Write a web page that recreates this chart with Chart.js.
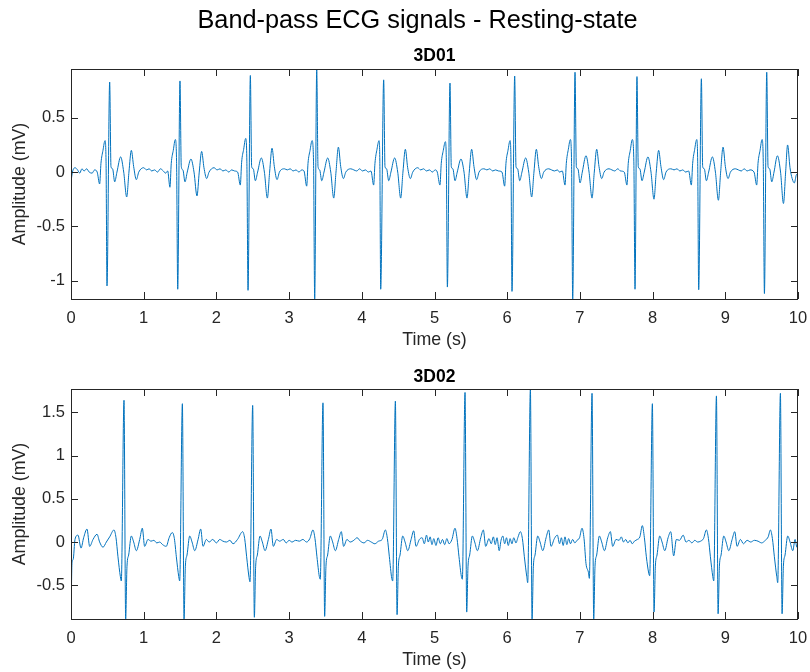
<!DOCTYPE html>
<html>
<head>
<meta charset="utf-8">
<script src="https://cdn.jsdelivr.net/npm/chart.js@4.4.1/dist/chart.umd.min.js"></script>
<style>
  html, body { margin: 0; padding: 0; background: #fff; }
  #wrap { position: relative; width: 810px; height: 672px; overflow: hidden; }
  #mainTitle {
    position: absolute; left: 0; top: 7px; width: 835px; text-align: center;
    font-family: "Liberation Sans", Arial, Helvetica, sans-serif;
    font-size: 25.3px; line-height: 25px; color: #000;
  }
  canvas { position: absolute; left: 0; }
  #ecg1 { top: 0; }
  #ecg2 { top: 352px; }
</style>
</head>
<body>
<div id="wrap">
  <canvas id="ecg1" width="810" height="352"></canvas>
  <canvas id="ecg2" width="810" height="320"></canvas>
  <div id="mainTitle">Band-pass ECG signals - Resting-state</div>
</div>
<script>
// --- data: [time (s), amplitude (mV)] ---
const figTitle = 'Band-pass ECG signals - Resting-state';
const subTitles = ['3D01', '3D02'];
const xLabel = 'Time (s)';
const yLabel = 'Amplitude (mV)';
const xTicks = [0, 1, 2, 3, 4, 5, 6, 7, 8, 9, 10];
const yTicksA = [-1, -0.5, 0, 0.5];
const yTicksB = [-0.5, 0, 0.5, 1, 1.5];
const yRangeA = [-1.17, 0.95];
const yRangeB = [-0.89, 1.77];

const ecgA = [
  [0.000,-0.09],[0.020,0.00],[0.055,0.04],[0.090,0.02],[0.120,-0.01],[0.150,0.03],[0.180,0.01],[0.215,0.03],[0.250,0.00],[0.290,-0.01],[0.325,0.02],[0.360,0.00],
  [0.394,-0.11],[0.412,0.08],[0.440,0.20],[0.468,0.29],[0.482,0.10],[0.495,-1.05],[0.532,0.83],[0.550,0.05],[0.572,0.03],[0.601,-0.09],[0.632,0.00],[0.683,0.14],[0.725,0.00],[0.766,-0.23],[0.797,0.00],[0.830,0.20],[0.862,0.05],[0.899,-0.07],[0.932,0.00],[1.000,0.04],
  [1.040,0.02],[1.075,0.03],[1.110,0.01],[1.150,0.02],[1.190,0.00],[1.230,0.03],[1.270,0.01],[1.300,-0.01],[1.330,0.01],
  [1.361,-0.14],[1.379,0.08],[1.407,0.20],[1.435,0.30],[1.452,0.10],[1.468,-1.08],[1.499,0.84],[1.517,0.05],[1.539,0.02],[1.568,-0.09],[1.599,0.00],[1.650,0.12],[1.692,0.00],[1.733,-0.22],[1.764,0.00],[1.797,0.19],[1.829,0.04],[1.866,-0.06],[1.899,0.00],[1.967,0.04],
  [2.010,0.02],[2.050,0.03],[2.090,0.01],[2.130,0.02],[2.170,0.00],[2.210,0.02],[2.250,0.01],[2.292,0.00],
  [2.329,-0.12],[2.347,0.09],[2.375,0.21],[2.403,0.31],[2.419,0.10],[2.435,-1.09],[2.467,0.89],[2.485,0.05],[2.507,0.03],[2.536,-0.08],[2.567,0.00],[2.618,0.13],[2.660,0.00],[2.701,-0.24],[2.732,0.00],[2.765,0.22],[2.797,0.05],[2.834,-0.07],[2.867,0.00],[2.935,0.03],
  [2.975,0.02],[3.015,0.03],[3.055,0.01],[3.095,0.02],[3.135,0.00],[3.175,0.02],[3.205,0.01],
  [3.242,-0.13],[3.260,0.08],[3.288,0.20],[3.316,0.29],[3.336,0.10],[3.352,-1.17],[3.380,0.95],[3.398,0.05],[3.420,0.02],[3.449,-0.08],[3.480,0.00],[3.531,0.13],[3.573,0.00],[3.614,-0.24],[3.645,0.00],[3.678,0.23],[3.710,0.05],[3.747,-0.06],[3.780,0.00],[3.848,0.03],
  [3.890,0.02],[3.930,0.01],[3.970,0.03],[4.010,0.01],[4.050,0.02],[4.090,0.00],[4.126,0.01],
  [4.163,-0.12],[4.181,0.08],[4.209,0.21],[4.237,0.29],[4.248,0.10],[4.260,-1.08],[4.301,0.85],[4.319,0.05],[4.341,0.03],[4.370,-0.08],[4.401,0.00],[4.452,0.13],[4.494,0.00],[4.535,-0.24],[4.566,0.00],[4.599,0.21],[4.631,0.04],[4.668,-0.06],[4.701,0.00],[4.769,0.04],
  [4.810,0.02],[4.850,0.03],[4.890,0.01],[4.930,0.02],[4.970,0.00],[5.010,0.02],[5.038,0.00],
  [5.075,-0.12],[5.093,0.08],[5.121,0.20],[5.149,0.28],[5.163,0.10],[5.177,-1.06],[5.213,0.82],[5.231,0.05],[5.253,0.03],[5.282,-0.08],[5.313,0.00],[5.364,0.12],[5.406,0.00],[5.447,-0.24],[5.478,0.00],[5.511,0.21],[5.543,0.05],[5.580,-0.07],[5.613,0.00],[5.681,0.03],
  [5.720,0.02],[5.760,0.03],[5.800,0.01],[5.840,0.02],[5.880,0.01],[5.928,0.00],
  [5.965,-0.13],[5.983,0.08],[6.011,0.20],[6.039,0.29],[6.052,0.10],[6.066,-1.10],[6.103,0.885],[6.121,0.05],[6.143,0.03],[6.172,-0.08],[6.203,0.00],[6.254,0.13],[6.296,0.00],[6.337,-0.23],[6.368,0.00],[6.401,0.21],[6.433,0.05],[6.470,-0.06],[6.503,0.00],[6.571,0.03],
  [6.610,0.02],[6.650,0.01],[6.690,0.02],[6.720,0.00],[6.758,0.01],
  [6.795,-0.12],[6.813,0.08],[6.841,0.21],[6.869,0.30],[6.885,0.10],[6.901,-1.17],[6.933,0.92],[6.951,0.05],[6.973,0.03],[7.002,-0.10],[7.033,0.00],[7.084,0.15],[7.126,0.00],[7.167,-0.24],[7.198,0.00],[7.231,0.21],[7.263,0.05],[7.300,-0.06],[7.333,0.00],[7.401,0.03],
  [7.440,0.02],[7.480,0.01],[7.520,0.03],[7.560,0.01],[7.610,0.00],
  [7.647,-0.12],[7.665,0.08],[7.693,0.20],[7.721,0.30],[7.742,0.10],[7.758,-1.08],[7.785,0.88],[7.803,0.05],[7.825,0.03],[7.854,-0.08],[7.885,0.00],[7.936,0.14],[7.978,0.00],[8.019,-0.25],[8.050,0.00],[8.083,0.20],[8.115,0.05],[8.152,-0.07],[8.185,0.00],[8.253,0.03],
  [8.295,0.02],[8.335,0.03],[8.375,0.01],[8.415,0.02],[8.455,0.00],[8.496,0.01],
  [8.533,-0.12],[8.551,0.08],[8.579,0.21],[8.607,0.30],[8.620,0.10],[8.634,-1.085],[8.671,0.86],[8.689,0.05],[8.711,0.03],[8.740,-0.08],[8.771,0.00],[8.822,0.14],[8.864,0.00],[8.905,-0.26],[8.936,0.00],[8.969,0.23],[9.001,0.05],[9.038,-0.06],[9.071,0.00],[9.139,0.03],
  [9.180,0.02],[9.220,0.01],[9.260,0.03],[9.300,0.01],[9.340,0.02],[9.395,0.00],
  [9.432,-0.12],[9.450,0.08],[9.478,0.20],[9.506,0.30],[9.522,0.10],[9.538,-1.12],[9.570,0.92],[9.588,0.05],[9.610,0.03],[9.639,-0.09],[9.670,0.00],[9.717,0.15],[9.760,0.00],[9.800,-0.29],[9.830,0.00],[9.857,0.25],[9.890,0.04],[9.920,-0.06],[9.950,-0.10],[9.975,-0.03],[10.000,-0.01]
];

const ecgB = [
  [0.000,-0.89],[0.014,-0.24],[0.030,-0.20],[0.055,0.03],[0.096,0.08],[0.138,-0.07],[0.174,0.05],[0.220,0.15],[0.257,-0.05],[0.303,0.03],[0.358,0.09],[0.394,0.00],[0.440,-0.06],[0.486,0.00],[0.532,0.06],
  [0.591,0.14],[0.619,0.05],[0.646,-0.17],[0.679,-0.40],[0.692,-0.45],[0.729,1.64],[0.752,-0.89],[0.770,-0.28],[0.793,-0.15],[0.830,0.07],[0.862,0.00],[0.899,-0.10],[0.945,0.03],[0.981,0.16],[1.013,-0.05],[1.059,0.03],
  [1.100,0.01],[1.140,0.02],[1.180,-0.01],[1.220,0.00],[1.260,-0.03],[1.310,-0.05],[1.350,0.05],
  [1.394,0.11],[1.422,0.04],[1.449,-0.17],[1.482,-0.40],[1.495,-0.45],[1.532,1.60],[1.555,-0.89],[1.573,-0.28],[1.596,-0.15],[1.633,0.07],[1.665,0.00],[1.702,-0.10],[1.748,0.03],[1.784,0.15],[1.816,-0.05],[1.862,0.03],
  [1.900,0.00],[1.950,0.03],[2.000,-0.01],[2.046,0.03],[2.090,0.01],[2.138,0.00],[2.185,0.02],[2.229,-0.02],[2.290,0.03],
  [2.361,0.12],[2.389,0.04],[2.416,-0.17],[2.449,-0.41],[2.462,-0.46],[2.499,1.58],[2.522,-0.87],[2.540,-0.28],[2.563,-0.15],[2.600,0.07],[2.632,0.00],[2.669,-0.10],[2.715,0.03],[2.751,0.15],[2.783,-0.05],[2.829,0.03],
  [2.870,0.01],[2.920,0.03],[2.960,-0.01],[3.000,0.02],[3.040,0.00],[3.090,0.02],[3.140,0.01],[3.190,0.03],[3.240,0.00],[3.285,0.04],
  [3.328,0.14],[3.356,0.04],[3.383,-0.17],[3.416,-0.40],[3.429,-0.43],[3.466,1.61],[3.489,-0.86],[3.507,-0.28],[3.530,-0.15],[3.567,0.07],[3.599,0.00],[3.636,-0.10],[3.682,0.03],[3.718,0.12],[3.750,-0.05],[3.796,0.03],
  [3.840,0.00],[3.890,0.02],[3.935,0.05],[3.980,0.01],[4.030,-0.01],[4.080,0.02],[4.130,0.00],[4.180,-0.02],[4.230,0.01],[4.280,0.03],
  [4.324,0.14],[4.352,0.04],[4.379,-0.17],[4.412,-0.42],[4.425,-0.45],[4.462,1.63],[4.485,-0.84],[4.503,-0.28],[4.526,-0.15],[4.563,0.07],[4.595,0.00],[4.632,-0.10],[4.678,0.03],[4.714,0.13],[4.746,-0.05],[4.792,0.03],
  [4.830,0.05],[4.860,-0.02],[4.890,0.08],[4.915,0.00],[4.940,0.06],[4.965,-0.03],[4.990,0.04],[5.020,-0.04],[5.050,0.05],[5.080,-0.02],[5.110,0.03],[5.140,-0.03],[5.170,0.04],[5.200,-0.02],[5.240,0.03],
  [5.282,0.16],[5.310,0.04],[5.337,-0.17],[5.370,-0.40],[5.383,-0.43],[5.420,1.73],[5.443,-0.81],[5.461,-0.28],[5.484,-0.15],[5.521,0.07],[5.553,0.00],[5.590,-0.10],[5.636,0.05],[5.672,0.14],[5.704,-0.05],[5.750,0.04],
  [5.780,-0.02],[5.810,0.06],[5.835,-0.03],[5.860,0.05],[5.890,-0.10],[5.915,0.02],[5.940,0.07],[5.965,-0.02],[5.990,0.05],[6.015,-0.04],[6.040,0.04],[6.065,-0.02],[6.090,0.05],[6.120,-0.01],[6.150,0.06],
  [6.181,0.12],[6.209,0.04],[6.236,-0.17],[6.269,-0.40],[6.282,-0.47],[6.319,1.77],[6.342,-0.89],[6.360,-0.28],[6.383,-0.15],[6.420,0.07],[6.452,0.00],[6.489,-0.10],[6.535,0.05],[6.571,0.14],[6.603,-0.05],[6.649,0.04],
  [6.690,0.08],[6.720,-0.02],[6.745,0.05],[6.770,-0.04],[6.795,0.06],[6.820,-0.03],[6.845,0.04],[6.870,-0.02],[6.900,0.03],[6.930,-0.01],[6.960,0.02],[6.995,0.05],
  [7.029,0.16],[7.057,0.04],[7.084,-0.25],[7.117,-0.35],[7.130,-0.42],[7.167,1.72],[7.190,-0.89],[7.208,-0.28],[7.231,-0.15],[7.268,0.07],[7.300,0.00],[7.337,-0.10],[7.383,0.05],[7.419,0.12],[7.451,-0.05],[7.497,0.03],
  [7.540,0.02],[7.570,0.06],[7.600,0.00],[7.630,0.03],[7.660,-0.01],[7.690,0.02],[7.720,-0.02],[7.750,0.01],[7.790,0.03],[7.825,0.06],
  [7.859,0.19],[7.887,0.05],[7.914,-0.17],[7.947,-0.36],[7.960,-0.39],[7.997,1.60],[8.020,-0.81],[8.038,-0.28],[8.061,-0.15],[8.098,0.07],[8.130,0.00],[8.167,-0.10],[8.213,0.05],[8.249,0.12],[8.290,-0.16],[8.327,0.03],
  [8.370,0.02],[8.420,0.08],[8.460,0.00],[8.500,0.02],[8.540,-0.01],[8.580,0.02],[8.620,0.00],[8.660,0.01],[8.700,0.04],
  [8.740,0.14],[8.768,0.04],[8.795,-0.17],[8.828,-0.40],[8.841,-0.45],[8.878,1.69],[8.901,-0.83],[8.919,-0.28],[8.942,-0.15],[8.979,0.07],[9.011,0.00],[9.048,-0.10],[9.094,0.03],[9.130,0.12],[9.162,-0.05],[9.208,0.03],
  [9.250,-0.02],[9.300,0.02],[9.350,0.00],[9.400,0.02],[9.450,0.01],[9.500,-0.01],[9.550,0.02],[9.590,0.06],
  [9.620,0.14],[9.648,0.04],[9.675,-0.17],[9.708,-0.40],[9.721,-0.47],[9.758,1.72],[9.781,-0.83],[9.799,-0.28],[9.822,-0.15],[9.859,0.07],[9.891,0.00],[9.928,-0.10],[9.960,0.03],[9.985,-0.06],[10.000,0.05]
];

const FONT = '"Liberation Sans", Arial, Helvetica, sans-serif';
const AXIS_GREY = '#262626';
Chart.defaults.font.family = FONT;

// matlab style box with inward ticks on all four sides
const matlabBox = {
    id: 'matlabBox',
    afterDraw(chart) {
        const { ctx, chartArea: a, scales } = chart;
        const len = 7;
        ctx.save();
        ctx.strokeStyle = AXIS_GREY;
        ctx.lineWidth = 1;
        ctx.beginPath();
        scales.x.ticks.forEach(t => {
            const px = Math.round(scales.x.getPixelForValue(t.value)) + 0.5;
            ctx.moveTo(px, a.bottom); ctx.lineTo(px, a.bottom - len);
            ctx.moveTo(px, a.top); ctx.lineTo(px, a.top + len);
        });
        scales.y.ticks.forEach(t => {
            const py = Math.round(scales.y.getPixelForValue(t.value)) + 0.5;
            ctx.moveTo(a.left, py); ctx.lineTo(a.left + len, py);
            ctx.moveTo(a.right, py); ctx.lineTo(a.right - len, py);
        });
        ctx.stroke();
        ctx.strokeRect(a.left + 0.5, a.top + 0.5, a.right - a.left - 1, a.bottom - a.top);
        ctx.restore();
    }
};

function makeEcgChart(canvasId, title, points, yRange, yTicks, titlePad) {
    const ctx = document.getElementById(canvasId).getContext('2d');
    return new Chart(ctx, {
        type: 'line',
        data: {
            datasets: [{
                label: title,
                data: points.map(([t, v]) => ({ x: t, y: v })),
                borderColor: '#0072BD',
                borderWidth: 1,
                pointRadius: 0,
                cubicInterpolationMode: 'monotone',
                fill: false
            }]
        },
        options: {
            responsive: false,
            animation: false,
            devicePixelRatio: 1,
            layout: { padding: { left: 0, right: 12, top: 0, bottom: 0 } },
            plugins: {
                legend: { display: false },
                tooltip: { enabled: false },
                title: {
                    display: true,
                    text: title,
                    fullSize: false,
                    color: '#000',
                    font: { size: 17.5, weight: 'bold', lineHeight: 1.2 },
                    padding: titlePad
                }
            },
            scales: {
                x: {
                    type: 'linear',
                    min: 0,
                    max: 10,
                    afterBuildTicks: s => { s.ticks = xTicks.map(v => ({ value: v })); },
                    afterFit: s => { s.height = 53; s.paddingLeft = 0; s.paddingRight = 0; },
                    grid: { display: false, drawTicks: false },
                    border: { display: false },
                    ticks: {
                        color: AXIS_GREY,
                        font: { size: 16.5 },
                        padding: 10,
                        maxRotation: 0,
                        callback: v => String(v)
                    },
                    title: {
                        display: true,
                        text: xLabel,
                        color: AXIS_GREY,
                        font: { size: 17.8, lineHeight: 1.2 },
                        padding: { top: 0, bottom: 0.8 }
                    }
                },
                y: {
                    type: 'linear',
                    min: yRange[0],
                    max: yRange[1],
                    afterBuildTicks: s => { s.ticks = yTicks.map(v => ({ value: v })); },
                    afterFit: s => { s.width = 71; s.paddingTop = 0; s.paddingBottom = 0; },
                    grid: { display: false, drawTicks: false },
                    border: { display: false },
                    ticks: {
                        color: AXIS_GREY,
                        font: { size: 16.5 },
                        padding: 6,
                        callback: v => String(v)
                    },
                    title: {
                        display: true,
                        text: yLabel,
                        color: AXIS_GREY,
                        font: { size: 17.8, lineHeight: 1.2 },
                        padding: { top: 9.3, bottom: 0 }
                    }
                }
            }
        },
        plugins: [matlabBox]
    });
}

document.getElementById('mainTitle').textContent = figTitle;
makeEcgChart('ecg1', subTitles[0], ecgA, yRangeA, yTicksA, { top: 45.7, bottom: 2.3 });
makeEcgChart('ecg2', subTitles[1], ecgB, yRangeB, yTicksB, { top: 14.2, bottom: 1.8 });
</script>
</body>
</html>
